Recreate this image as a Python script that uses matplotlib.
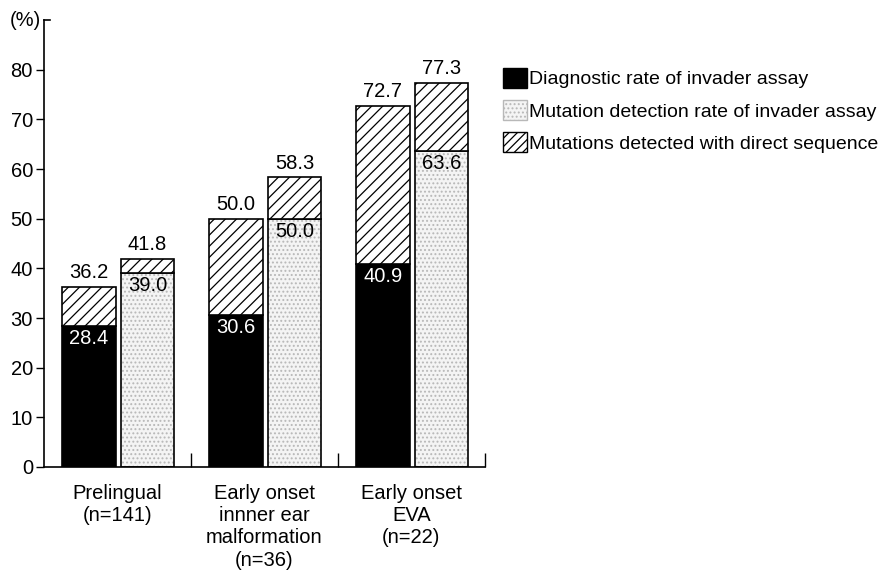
import matplotlib.pyplot as plt
import numpy as np
from matplotlib.patches import Patch

plt.rcParams['font.family'] = ['Liberation Sans', 'DejaVu Sans']
plt.rcParams['hatch.linewidth'] = 0.9

groups = ['Prelingual\n(n=141)',
          'Early onset\ninnner ear\nmalformation\n(n=36)',
          'Early onset\nEVA\n(n=22)']
diag_rate = [28.4, 30.6, 40.9]        # black bars
diag_total = [36.2, 50.0, 72.7]       # with direct sequence
mut_rate = [39.0, 50.0, 63.6]         # stippled bars
mut_total = [41.8, 58.3, 77.3]        # with direct sequence
legend_labels = ['Diagnostic rate of invader assay',
                 'Mutation detection rate of invader assay',
                 'Mutations detected with direct sequence']

fig = plt.figure(figsize=(8.87, 5.73), dpi=100)
ax = fig.add_axes([0.0496, 0.185, 0.497, 0.78])

x = np.arange(len(groups))
w = 0.365
xl = x + 0.306
xr = x + 0.704

diag_extra = [t - d for t, d in zip(diag_total, diag_rate)]
mut_extra = [t - m for t, m in zip(mut_total, mut_rate)]

# left bars: black + hatched
ax.bar(xl, diag_rate, w, color='black', edgecolor='black', lw=1.2)
ax.bar(xl, diag_extra, w, bottom=diag_rate, color='white',
       edgecolor='black', hatch='///', lw=1.2)
# right bars: stipple + hatched
ax.bar(xr, mut_rate, w, color='#f4f4f4', edgecolor='#b8b8b8',
       hatch='....', lw=0)
ax.bar(xr, mut_rate, w, fill=False, edgecolor='black', lw=1.2)
ax.bar(xr, mut_extra, w, bottom=mut_rate, color='white',
       edgecolor='black', hatch='///', lw=1.2)

fs = 14.5
for i in range(len(groups)):
    ax.text(xl[i], diag_total[i] + 1.0, f'{diag_total[i]:.1f}',
            ha='center', va='bottom', fontsize=fs)
    ax.text(xr[i], mut_total[i] + 1.0, f'{mut_total[i]:.1f}',
            ha='center', va='bottom', fontsize=fs)
    ax.text(xl[i], diag_rate[i] - 0.6, f'{diag_rate[i]:.1f}',
            ha='center', va='top', fontsize=fs, color='white')
    ax.text(xr[i], mut_rate[i] - 0.6, f'{mut_rate[i]:.1f}',
            ha='center', va='top', fontsize=fs)

ax.set_xlim(0, 3)
ax.set_ylim(0, 90)
ax.set_yticks(np.arange(0, 90, 10))
ax.tick_params(axis='y', labelsize=fs, direction='out', length=6, width=1,
               pad=2)
ax.set_xticks([1, 2, 3])
ax.set_xticklabels([])
ax.tick_params(axis='x', direction='in', length=10, width=1)
ax.spines['top'].set_visible(False)
ax.spines['right'].set_visible(False)
ax.spines['left'].set_linewidth(1.2)
ax.spines['bottom'].set_linewidth(1.2)
# short top tick of the y axis with (%) label
ax.plot([0, 0.04], [90, 90], color='black', lw=1.2, clip_on=False)
ax.text(-0.02, 90, '(%)', ha='right', va='center', fontsize=fs)

for i, g in enumerate(groups):
    ax.text(x[i] + 0.5, -3.4, g, ha='center', va='top', fontsize=fs,
            linespacing=1.22)

# legend
handles = [Patch(facecolor='black', edgecolor='black'),
           Patch(facecolor='#f4f4f4', edgecolor='#b8b8b8', hatch='....'),
           Patch(facecolor='white', edgecolor='black', hatch='////')]
fig.legend(handles, legend_labels, loc='upper left',
           bbox_to_anchor=(0.558, 0.895), frameon=False, fontsize=14,
           handlelength=1.25, handleheight=1.2, handletextpad=0.1,
           labelspacing=0.6, borderaxespad=0)

plt.savefig('out.png', dpi=100)
